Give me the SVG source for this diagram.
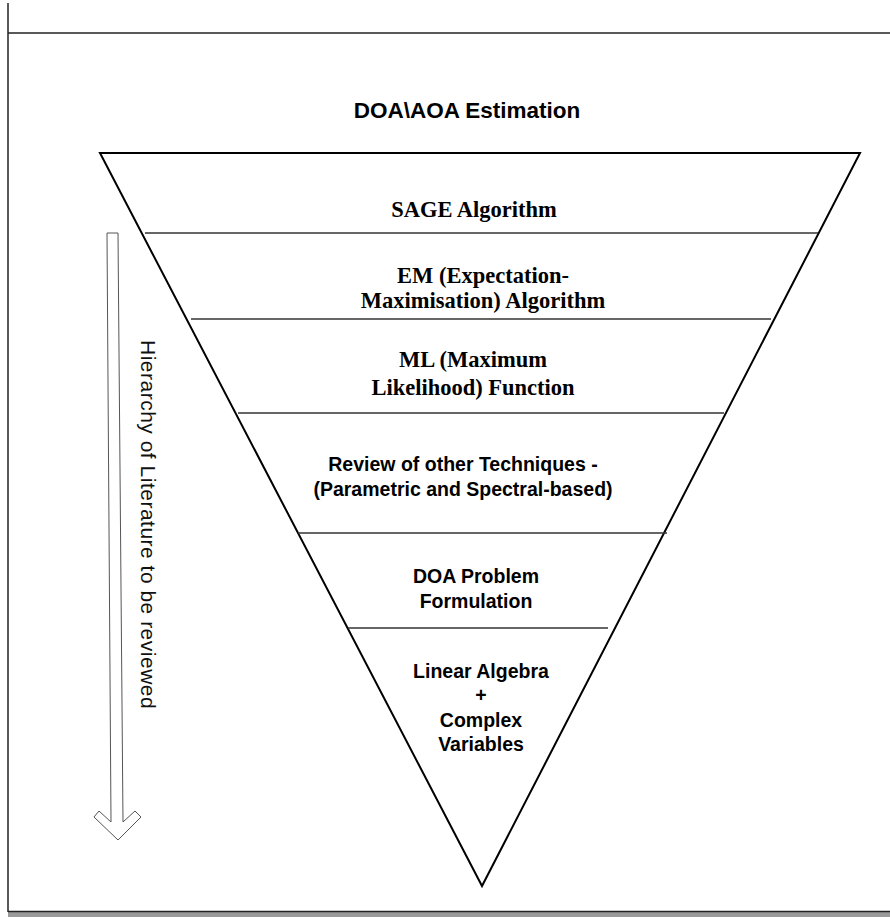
<svg xmlns="http://www.w3.org/2000/svg" width="890" height="917" viewBox="0 0 890 917">
<style>
.frame{stroke:#222;stroke-width:1.5;fill:none}
.tri{stroke:#000;stroke-width:2;fill:none;stroke-linejoin:miter}
.div{stroke:#333;stroke-width:1.5}
.serif{font-family:"Liberation Serif","Times New Roman",serif;font-weight:bold;font-size:22.5px;fill:#000;text-anchor:middle}
.sans{font-family:"Liberation Sans",Arial,sans-serif;font-weight:bold;font-size:19.5px;fill:#000;text-anchor:middle}
.title{font-family:"Liberation Sans",Arial,sans-serif;font-weight:bold;font-size:22.5px;fill:#000;text-anchor:middle}
.side{font-family:"Liberation Sans",Arial,sans-serif;font-size:21px;letter-spacing:0.5px;fill:#111}
.arrow{stroke:#555;stroke-width:1;fill:none}
</style>
<rect width="890" height="917" fill="#fff"/>
<g id="frame">
<line class="frame" x1="8" y1="3" x2="8" y2="912"/>
<line class="frame" x1="8" y1="33" x2="890" y2="33"/>
<rect x="8" y="911" width="882" height="6" fill="#9a9a9a"/>
<line x1="8" y1="911.5" x2="890" y2="911.5" stroke="#222" stroke-width="1.5"/>
</g>
<g id="title"><text class="title" x="467" y="118">DOA\AOA Estimation</text></g>
<g id="pyramid">
<polygon class="tri" points="100,153 860,153 482,886"/>
</g>
<g id="connectors">
<line class="div" x1="145" y1="233" x2="818" y2="233"/>
<line class="div" x1="191" y1="319" x2="771" y2="319"/>
<line class="div" x1="238" y1="413" x2="724" y2="413"/>
<line class="div" x1="298" y1="533" x2="667" y2="533"/>
<line class="div" x1="348" y1="628" x2="608" y2="628"/>
</g>
<g id="sage"><text class="serif" x="474" y="217">SAGE Algorithm</text></g>
<g id="em"><text class="serif" x="483" y="283">EM (Expectation-</text><text class="serif" x="483" y="308">Maximisation) Algorithm</text></g>
<g id="ml"><text class="serif" x="473" y="367">ML (Maximum</text><text class="serif" x="473" y="395">Likelihood) Function</text></g>
<g id="review"><text class="sans" x="463" y="471">Review of other Techniques -</text><text class="sans" x="463" y="496">(Parametric and Spectral-based)</text></g>
<g id="doa"><text class="sans" x="476" y="583">DOA Problem</text><text class="sans" x="476" y="608">Formulation</text></g>
<g id="linalg"><text class="sans" x="481" y="678">Linear Algebra</text><text class="sans" x="481" y="702">+</text><text class="sans" x="481" y="727">Complex</text><text class="sans" x="481" y="751">Variables</text></g>
<g id="hierarchy">
<polygon class="arrow" points="107,233 118,233 123,822 135,811 141,817 118,840 94,817 99,811 111,822"/>
<text class="side" transform="translate(141,340) rotate(90)">Hierarchy of Literature to be reviewed</text>
</g>
</svg>
